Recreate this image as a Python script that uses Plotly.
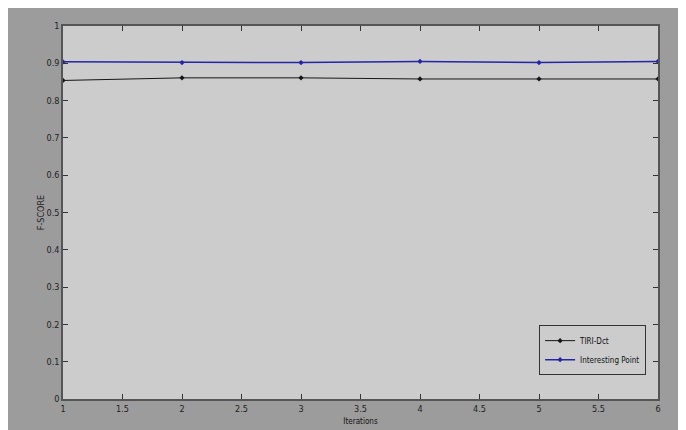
import plotly.graph_objects as go

iterations = [1, 2, 3, 4, 5, 6]
tiri_dct = [0.854, 0.861, 0.861, 0.858, 0.858, 0.858]
interesting_point = [0.904, 0.902, 0.902, 0.905, 0.902, 0.905]
x_ticks = [1, 1.5, 2, 2.5, 3, 3.5, 4, 4.5, 5, 5.5, 6]
y_ticks = [0, 0.1, 0.2, 0.3, 0.4, 0.5, 0.6, 0.7, 0.8, 0.9, 1]

font_family = "DejaVu Sans Condensed, Liberation Sans, Arial"

fig = go.Figure()
fig.add_trace(go.Scatter(
    x=iterations, y=tiri_dct, mode="lines+markers", name="TIRI-Dct",
    line=dict(color="#151515", width=1),
    marker=dict(symbol="diamond", size=4, color="#151515"),
))
fig.add_trace(go.Scatter(
    x=iterations, y=interesting_point, mode="lines+markers", name="Interesting Point",
    line=dict(color="#2424a8", width=1.5),
    marker=dict(symbol="diamond", size=4, color="#2424a8"),
))

axis_common = dict(
    showgrid=False, zeroline=False, showline=True, linecolor="#555555", linewidth=1.5,
    mirror="ticks", ticks="inside", ticklen=5, tickcolor="#333333", tickwidth=1,
    tickfont=dict(family=font_family, size=9, color="#222222"), automargin=False,
)

fig.update_layout(
    width=678, height=422,
    margin=dict(l=55, r=28, t=18, b=31),
    paper_bgcolor="#9c9c9c",
    plot_bgcolor="#cccccc",
    showlegend=True,
    legend=dict(
        x=0.98, y=0.064, xanchor="right", yanchor="bottom",
        bgcolor="#cccccc", bordercolor="#333333", borderwidth=1,
        font=dict(family=font_family, size=8, color="#111111"),
        tracegroupgap=0, itemwidth=30,
    ),
    xaxis=dict(range=[1, 6], tickvals=x_ticks,
               ticktext=[str(v) for v in x_ticks],
               title=dict(text="Iterations", font=dict(family=font_family, size=8, color="#111111"), standoff=6),
               **axis_common),
    yaxis=dict(range=[0, 1], tickvals=y_ticks,
               ticktext=["0", "0.1", "0.2", "0.3", "0.4", "0.5", "0.6", "0.7", "0.8", "0.9", "1"],
               title=dict(text="F-SCORE", font=dict(family=font_family, size=9, color="#222222"), standoff=0),
               **axis_common),
)

fig.write_html("out.html")
